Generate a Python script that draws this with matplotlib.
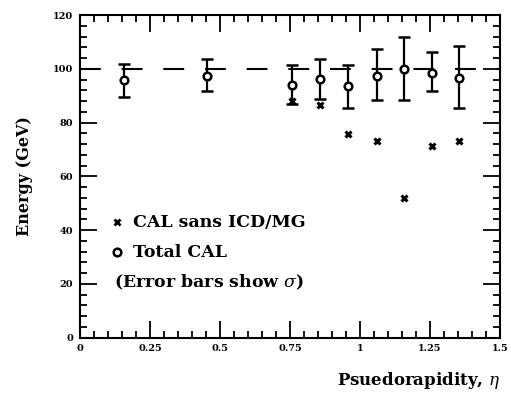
import matplotlib
matplotlib.use("Agg")
import matplotlib.pyplot as plt
from matplotlib.ticker import MultipleLocator

plt.rcParams["mathtext.fontset"] = "dejavuserif"

# pseudorapidity bins
eta = [0.155, 0.455, 0.758, 0.857, 0.956, 1.06, 1.158, 1.256, 1.354]

# total calorimeter energy, with sigma as asymmetric read-off bars
total_cal = [95.9, 97.5, 94.1, 96.3, 93.6, 97.5, 99.8, 98.3, 96.7]
err_up = [6.0, 6.2, 7.5, 7.4, 8.0, 10.0, 11.9, 7.9, 11.9]
err_dn = [6.4, 5.7, 7.1, 7.4, 8.0, 9.2, 11.5, 6.7, 11.1]

# CAL sans ICD/MG (only measured in the crack region)
eta_sans = [0.758, 0.857, 0.956, 1.06, 1.158, 1.256, 1.354]
sans_cal = [88.0, 86.4, 75.7, 73.2, 52.0, 71.3, 73.0]

beam_energy = 100

fig = plt.figure(figsize=(5.11, 3.99), dpi=100)
ax = fig.add_axes([0.157, 0.154, 0.821, 0.808])

serif = ["DejaVu Serif"]

ax.axhline(beam_energy, color="black", lw=1.5, dashes=(10, 10))
ax.errorbar(eta, total_cal, yerr=[err_dn, err_up], fmt="o", color="black",
            mfc="white", mec="black", mew=1.8, ms=5.5, elinewidth=1.6,
            capsize=4, capthick=1.5, zorder=3)
ax.plot(eta_sans, sans_cal, "x", color="black", ms=5, mew=2.2, zorder=3)

ax.set_xlim(0, 1.5)
ax.set_ylim(0, 120)
ax.xaxis.set_major_locator(MultipleLocator(0.25))
ax.xaxis.set_minor_locator(MultipleLocator(0.05))
ax.yaxis.set_major_locator(MultipleLocator(20))
ax.yaxis.set_minor_locator(MultipleLocator(4))
ax.set_xticks([0, 0.25, 0.5, 0.75, 1, 1.25, 1.5])
ax.set_xticklabels(["0", "0.25", "0.5", "0.75", "1", "1.25", "1.5"])
ax.tick_params(which="both", direction="in", top=True, right=True, width=1.3)
ax.tick_params(which="major", length=12, labelsize=7, pad=5)
ax.tick_params(which="minor", length=5)
for lab in ax.get_xticklabels() + ax.get_yticklabels():
    lab.set_fontweight("bold")
    lab.set_family(serif)
for sp in ax.spines.values():
    sp.set_linewidth(1.5)

ax.set_ylabel("Energy (GeV)", fontsize=11.5, fontweight="bold", family=serif, labelpad=14)
fig.text(0.98, 0.035, r"Psuedorapidity, $\eta$", fontsize=12, fontweight="bold",
         family=serif, ha="right", va="baseline")

# legend block written inside the frame
ax.plot([0.088], [0.358], "x", color="black", ms=5, mew=2, transform=ax.transAxes, clip_on=False)
ax.plot([0.088], [0.265], "o", color="black", mfc="white", ms=5.5, mew=1.8, transform=ax.transAxes)
ax.text(0.125, 0.358, "CAL sans ICD/MG", transform=ax.transAxes, fontsize=12.5,
        fontweight="bold", family=serif, va="center")
ax.text(0.125, 0.265, "Total CAL", transform=ax.transAxes, fontsize=12.5,
        fontweight="bold", family=serif, va="center")
ax.text(0.08, 0.17, r"(Error bars show $\sigma$)", transform=ax.transAxes, fontsize=12.5,
        fontweight="bold", family=serif, va="center")

fig.savefig("out.png", dpi=100)
